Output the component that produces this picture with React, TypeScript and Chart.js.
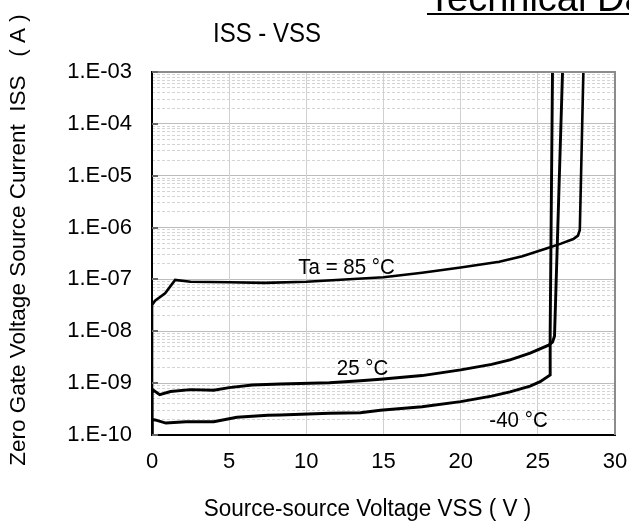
import React, { useEffect, useRef } from "react";
import { Chart, registerables } from "chart.js";

Chart.register(...registerables);

// ---- axis ticks ----
const X_TICKS = [0, 5, 10, 15, 20, 25, 30];
const Y_TICKS = [1e-10, 1e-9, 1e-8, 1e-7, 1e-6, 1e-5, 1e-4, 1e-3];
const Y_TICK_LABELS = ["1.E-10", "1.E-09", "1.E-08", "1.E-07", "1.E-06", "1.E-05", "1.E-04", "1.E-03"];
const MINOR_STEPS = [2, 3, 4, 5, 6, 7, 8, 9];

// ---- Ta = 85 °C ----
const V_85 = [0, 0, 0.2, 0.85, 1.5, 2.5, 5, 7.3, 10, 12.5, 15, 17.5, 20, 22.5, 24, 25.6, 26.5, 27.3, 27.6, 27.72, 27.8, 27.95];
const I_85 = [1e-10, 3.2e-8, 3.9e-8, 5.4e-8, 9.8e-8, 9.0e-8, 8.8e-8, 8.6e-8, 9.0e-8, 1.0e-7, 1.1e-7, 1.35e-7, 1.7e-7, 2.2e-7, 2.8e-7, 4.0e-7, 4.9e-7, 6.0e-7, 7.0e-7, 9.0e-7, 1e-5, 1e-3];

// ---- 25 °C ----
const V_25 = [0, 0, 0.1, 0.5, 1.2, 2.5, 4, 5, 6.5, 8.3, 11.5, 13.5, 14.8, 17.5, 20, 22, 23.2, 24.5, 25.7, 25.95, 26.08, 26.6];
const I_25 = [1e-10, 6.5e-10, 7.3e-10, 6.0e-10, 6.9e-10, 7.5e-10, 7.3e-10, 8.2e-10, 9.2e-10, 9.6e-10, 1.02e-9, 1.11e-9, 1.19e-9, 1.4e-9, 1.8e-9, 2.3e-9, 2.8e-9, 3.8e-9, 5.4e-9, 6.2e-9, 8e-9, 1e-3];

// ---- -40 °C ----
const V_M40 = [0, 0, 0.2, 0.9, 2.2, 4, 5.5, 7.5, 8.3, 11.5, 13.5, 14.8, 17.5, 20, 22, 23.2, 24.5, 25.15, 25.8, 25.8, 25.95];
const I_M40 = [1e-10, 2.0e-10, 1.95e-10, 1.7e-10, 1.8e-10, 1.8e-10, 2.2e-10, 2.4e-10, 2.43e-10, 2.62e-10, 2.69e-10, 3.0e-10, 3.5e-10, 4.4e-10, 5.6e-10, 6.8e-10, 8.8e-10, 1.07e-9, 1.44e-9, 1e-8, 1e-3];

// ---- curve labels (anchored in data coordinates) ----
const CURVE_LABELS = ["Ta = 85 °C", "25 °C", "-40 °C"];
const CURVE_LABEL_V = [9.48, 11.97, 21.86];
const CURVE_LABEL_I = [1.26e-7, 1.44e-9, 1.45e-10];

const TITLE = "ISS - VSS";
const X_TITLE = "Source-source Voltage VSS ( V )";
const Y_TITLE = "Zero Gate Voltage Source Current  ISS   ( A )";
const HEADER = "Technical Data";

const FONT = "'Liberation Sans', Arial, sans-serif";

const toPts = (xs: number[], ys: number[]) => xs.map((x, i) => ({ x, y: ys[i] }));

const sameLog = (a: number, b: number) => Math.abs(Math.log10(a) - Math.log10(b)) < 1e-6;

function stretchText(ctx: CanvasRenderingContext2D, text: string, x: number, y: number, size: number, align: CanvasTextAlign, sy: number) {
  ctx.save();
  ctx.translate(x, y);
  ctx.scale(1, sy);
  ctx.font = `${size}px ${FONT}`;
  ctx.textAlign = align;
  ctx.textBaseline = "alphabetic";
  ctx.fillStyle = "#000";
  ctx.fillText(text, 0, 0);
  ctx.restore();
}

const decoPlugin = {
  id: "deco",
  afterDatasetsDraw(chart: any) {
    const { ctx, chartArea } = chart;
    const { left, right, top, bottom } = chartArea;
    const y = chart.scales.y;
    ctx.save();
    // top & right frame
    ctx.strokeStyle = "#8c8c8c";
    ctx.lineWidth = 2;
    ctx.beginPath();
    ctx.moveTo(left, top);
    ctx.lineTo(right, top);
    ctx.lineTo(right, bottom);
    ctx.stroke();
    // inward decade tick marks
    ctx.strokeStyle = "#666";
    ctx.lineWidth = 2;
    Y_TICKS.forEach((v) => {
      const py = Math.round(y.getPixelForValue(v));
      ctx.beginPath();
      ctx.moveTo(left, py);
      ctx.lineTo(left + 6, py);
      ctx.stroke();
    });
    ctx.restore();
  },
  afterDraw(chart: any) {
    const { ctx } = chart;
    const xs = chart.scales.x;
    const ys = chart.scales.y;
    ctx.save();
    // curve labels
    CURVE_LABELS.forEach((t, i) => {
      stretchText(ctx, t, xs.getPixelForValue(CURVE_LABEL_V[i]), ys.getPixelForValue(CURVE_LABEL_I[i]), 20.5, "left", 1.1);
    });
    // title
    stretchText(ctx, TITLE, 267, 41.5, 24, "center", 1.15);
    // x title
    stretchText(ctx, X_TITLE, 367.5, 516, 22.5, "center", 1.05);
    // y title (rotated)
    ctx.save();
    ctx.translate(25, 240);
    ctx.rotate(-Math.PI / 2);
    ctx.font = `22.5px ${FONT}`;
    ctx.textAlign = "center";
    ctx.textBaseline = "alphabetic";
    ctx.fillStyle = "#000";
    ctx.fillText(Y_TITLE, 0, 0);
    ctx.restore();
    // cropped header
    stretchText(ctx, HEADER, 428, 11, 38, "left", 1.0);
    ctx.fillStyle = "#000";
    ctx.fillRect(427, 13, 205, 2);
    ctx.restore();
  },
};

export default function App() {
  const ref = useRef<HTMLCanvasElement | null>(null);

  useEffect(() => {
    if (!ref.current) return;
    const minorTicks: number[] = [];
    Y_TICKS.slice(0, -1).forEach((d) => MINOR_STEPS.forEach((k) => minorTicks.push(k * d)));

    const ds = (data: any[], w: number) => ({
      data,
      borderColor: "#000",
      backgroundColor: "#000",
      borderWidth: w,
      pointRadius: 0,
      tension: 0,
      fill: false,
    });

    const chart = new Chart(ref.current, {
      type: "line",
      data: {
        datasets: [ds(toPts(V_85, I_85), 2.6), ds(toPts(V_25, I_25), 2.9), ds(toPts(V_M40, I_M40), 2.9)],
      },
      options: {
        responsive: false,
        animation: false,
        devicePixelRatio: 1,
        layout: { padding: { top: 72, right: 14, left: 0, bottom: 0 } },
        plugins: { legend: { display: false }, tooltip: { enabled: false }, title: { display: false } },
        scales: {
          yMinor: {
            type: "logarithmic",
            position: "left",
            min: 1e-10,
            max: 1e-3,
            afterBuildTicks: (s: any) => {
              s.ticks = minorTicks.map((v) => ({ value: v }));
            },
            ticks: { display: false },
            grid: { color: "#d4d4d4", lineWidth: 1, drawTicks: false },
            border: { display: false, dash: [3, 2] },
            afterFit: (s: any) => {
              s.width = 0;
            },
          },
          y: {
            type: "logarithmic",
            position: "left",
            min: 1e-10,
            max: 1e-3,
            afterBuildTicks: (s: any) => {
              s.ticks = Y_TICKS.map((v) => ({ value: v }));
            },
            ticks: {
              autoSkip: false,
              color: "#000",
              font: { size: 22, family: FONT },
              padding: 20,
              callback: (v: any) => {
                const idx = Y_TICKS.findIndex((t) => sameLog(t, Number(v)));
                return idx >= 0 ? Y_TICK_LABELS[idx] : "";
              },
            },
            grid: { color: "#bdbdbd", lineWidth: 1, drawTicks: false },
            border: { color: "#000", width: 2 },
            afterFit: (s: any) => {
              s.width = 152;
            },
          },
          x: {
            type: "linear",
            min: 0,
            max: 30,
            afterBuildTicks: (s: any) => {
              s.ticks = X_TICKS.map((v) => ({ value: v }));
            },
            ticks: {
              autoSkip: false,
              maxRotation: 0,
              color: "#000",
              font: { size: 22, family: FONT },
              padding: 14,
            },
            grid: {
              color: (c: any) =>
                c.tick && (c.tick.value === 0 || c.tick.value === 30) ? "rgba(0,0,0,0)" : "#d0d0d0",
              lineWidth: 1,
              drawTicks: false,
            },
            border: { color: "#000", width: 2 },
            afterFit: (s: any) => {
              s.height = 90;
              s.paddingLeft = 0;
              s.paddingRight = 0;
            },
          },
        },
      },
      plugins: [decoPlugin],
    } as any);
    return () => chart.destroy();
  }, []);

  return (
    <div style={{ position: "fixed", left: 0, top: 0, width: 629, height: 525, background: "#fff" }}>
      <canvas ref={ref} width={629} height={525} style={{ width: 629, height: 525, display: "block" }} />
    </div>
  );
}
